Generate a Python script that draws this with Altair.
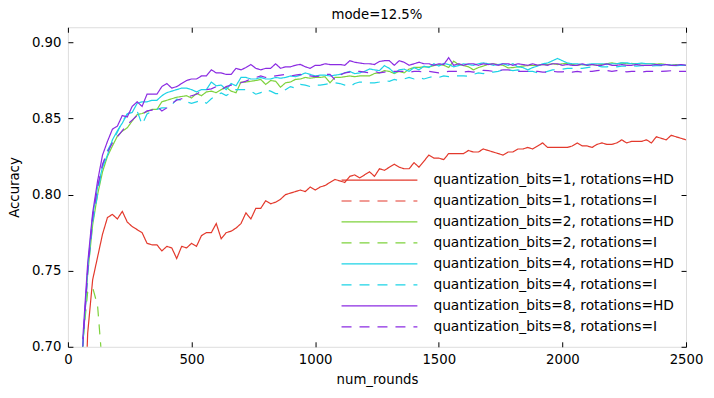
import altair as alt
import pandas as pd

# ---------------- data ----------------
GRID = list(range(60, 2501, 20))

labels = [
    "quantization_bits=1, rotations=HD",
    "quantization_bits=1, rotations=I",
    "quantization_bits=2, rotations=HD",
    "quantization_bits=2, rotations=I",
    "quantization_bits=4, rotations=HD",
    "quantization_bits=4, rotations=I",
    "quantization_bits=8, rotations=HD",
    "quantization_bits=8, rotations=I",
]
colors = ["#e3392c", "#e3392c", "#7ed23c", "#7ed23c", "#1dd3e6", "#1dd3e6", "#8b2be2", "#8b2be2"]
dashes = [[1, 0], [10, 8], [1, 0], [10, 8], [1, 0], [10, 8], [1, 0], [10, 8]]

x_ticks = [0, 500, 1000, 1500, 2000, 2500]
y_ticks = [0.70, 0.75, 0.80, 0.85, 0.90]

acc_1_hd = [
    0.62, 0.709, 0.744, 0.759, 0.774, 0.785, 0.787, 0.784, 0.789, 0.782,
    0.779, 0.777, 0.775, 0.768, 0.767, 0.767, 0.763, 0.766, 0.765, 0.758,
    0.766, 0.765, 0.768, 0.766, 0.773, 0.775, 0.775, 0.781, 0.771, 0.775,
    0.776, 0.778, 0.781, 0.788, 0.784, 0.791, 0.791, 0.796, 0.794, 0.795,
    0.797, 0.800, 0.801, 0.802, 0.803, 0.802, 0.805, 0.803, 0.805, 0.806,
    0.808, 0.810, 0.809, 0.808, 0.812, 0.813, 0.811, 0.813, 0.815, 0.812,
    0.817, 0.816, 0.818, 0.820, 0.818, 0.817, 0.817, 0.821, 0.818, 0.822,
    0.826, 0.824, 0.824, 0.823, 0.827, 0.827, 0.827, 0.827, 0.829, 0.828,
    0.828, 0.830, 0.829, 0.828, 0.827, 0.826, 0.828, 0.828, 0.830, 0.830,
    0.831, 0.830, 0.832, 0.834, 0.831, 0.831, 0.831, 0.831, 0.831, 0.832,
    0.834, 0.832, 0.832, 0.831, 0.833, 0.834, 0.833, 0.833, 0.834, 0.836,
    0.834, 0.835, 0.835, 0.835, 0.836, 0.834, 0.838, 0.837, 0.836, 0.839,
    0.838, 0.837, 0.836,
]

rounds_1_i = [60, 600, 1200, 1800, 2500]
acc_1_i = [0.30, 0.30, 0.30, 0.30, 0.30]

acc_2_hd = [
    0.700, 0.748, 0.780, 0.800, 0.815, 0.8252, 0.832, 0.8384, 0.8417, 0.8439,
    0.8484, 0.8526, 0.8533, 0.8545, 0.856, 0.856, 0.861, 0.862, 0.863, 0.864,
    0.8645, 0.865, 0.8635, 0.8665, 0.865, 0.8675, 0.868, 0.867, 0.869, 0.8706,
    0.868, 0.867, 0.874, 0.874, 0.8745, 0.875, 0.8757, 0.8724, 0.875, 0.8745,
    0.8706, 0.8735, 0.874, 0.8757, 0.876, 0.877, 0.8765, 0.877, 0.877, 0.8775,
    0.8735, 0.877, 0.877, 0.8775, 0.878, 0.8775, 0.878, 0.878, 0.878, 0.8796,
    0.880, 0.8815, 0.881, 0.8796, 0.881, 0.880, 0.8825, 0.8836, 0.8836, 0.884,
    0.884, 0.8848, 0.8855, 0.885, 0.8836, 0.8877, 0.8855, 0.8848, 0.884, 0.882,
    0.8835, 0.8845, 0.8856, 0.886, 0.8855, 0.885, 0.8833, 0.8835, 0.884, 0.8845,
    0.8848, 0.885, 0.885, 0.8855, 0.8855, 0.886, 0.8855, 0.886, 0.8862, 0.8855,
    0.885, 0.8855, 0.885, 0.8855, 0.885, 0.8855, 0.886, 0.8866, 0.886, 0.8865,
    0.886, 0.8862, 0.886, 0.886, 0.886, 0.886, 0.8858, 0.886, 0.8855, 0.885,
    0.8855, 0.885, 0.885,
]

rounds_2_i = [40, 60, 80, 100, 120, 140, 160]
acc_2_i = [0.60, 0.703, 0.736, 0.739, 0.727, 0.686, 0.62]

acc_4_hd = [
    0.700, 0.752, 0.786, 0.805, 0.818, 0.826, 0.836, 0.842, 0.847, 0.853,
    0.854, 0.860, 0.861, 0.861, 0.862, 0.862, 0.865, 0.867, 0.868, 0.869,
    0.870, 0.870, 0.869, 0.8675, 0.869, 0.869, 0.874, 0.8715, 0.872, 0.869,
    0.873, 0.8715, 0.877, 0.877, 0.876, 0.876, 0.877, 0.876, 0.876, 0.877,
    0.8765, 0.877, 0.878, 0.8775, 0.8785, 0.880, 0.879, 0.878, 0.8785, 0.8785,
    0.878, 0.8785, 0.879, 0.880, 0.881, 0.8795, 0.880, 0.881, 0.8826, 0.882,
    0.8815, 0.8848, 0.883, 0.880, 0.882, 0.8825, 0.881, 0.8835, 0.882, 0.8844,
    0.8835, 0.886, 0.8845, 0.8862, 0.8855, 0.884, 0.8848, 0.886, 0.8855, 0.885,
    0.886, 0.8866, 0.886, 0.885, 0.8855, 0.886, 0.885, 0.886, 0.884, 0.8835,
    0.882, 0.8835, 0.8845, 0.886, 0.8865, 0.888, 0.8895, 0.888, 0.8865, 0.886,
    0.886, 0.8855, 0.8855, 0.886, 0.886, 0.886, 0.8855, 0.886, 0.886, 0.8866,
    0.8866, 0.886, 0.886, 0.8865, 0.886, 0.886, 0.8855, 0.8855, 0.8855, 0.885,
    0.885, 0.885, 0.885,
]

acc_4_i = [
    0.700, 0.748, 0.782, 0.800, 0.819, 0.829, 0.835, 0.841, 0.848, 0.853,
    0.855, 0.855, 0.846, 0.853, 0.8548, 0.856, 0.857, 0.857, 0.859, 0.8628,
    0.862, 0.861, 0.860, 0.861, 0.862, 0.860, 0.863, 0.865, 0.8668, 0.8651,
    0.867, 0.869, 0.869, 0.869, 0.868, 0.866, 0.867, 0.869, 0.868, 0.8664,
    0.8664, 0.869, 0.871, 0.870, 0.8725, 0.872, 0.871, 0.872, 0.872, 0.8725,
    0.873, 0.8735, 0.873, 0.872, 0.871, 0.873, 0.874, 0.874, 0.8735, 0.8735,
    0.874, 0.875, 0.8745, 0.8757, 0.875, 0.876, 0.877, 0.876, 0.877, 0.876,
    0.877, 0.8777, 0.877, 0.878, 0.8775, 0.878, 0.878, 0.878, 0.8778, 0.879,
    0.880, 0.8795, 0.8805, 0.8805, 0.881, 0.882, 0.882, 0.8815, 0.882, 0.881,
    0.881, 0.881, 0.880, 0.880, 0.881, 0.882, 0.882, 0.8825, 0.883, 0.883,
    0.883, 0.883, 0.8835, 0.884, 0.8845, 0.884, 0.884, 0.8845, 0.884, 0.8845,
    0.8845, 0.8848, 0.8845, 0.8848, 0.8848, 0.8845, 0.8848, 0.8848, 0.8848, 0.885,
    0.8848, 0.885, 0.885,
]

acc_8_hd = [
    0.705, 0.755, 0.788, 0.809, 0.826, 0.835, 0.843, 0.845, 0.852, 0.851,
    0.858, 0.861, 0.858, 0.866, 0.866, 0.866, 0.871, 0.873, 0.870, 0.871,
    0.873, 0.875, 0.876, 0.876, 0.878, 0.878, 0.882, 0.880, 0.880, 0.879,
    0.879, 0.883, 0.882, 0.8835, 0.8855, 0.883, 0.882, 0.883, 0.883, 0.886,
    0.883, 0.884, 0.884, 0.885, 0.8856, 0.884, 0.883, 0.885, 0.885, 0.886,
    0.8855, 0.8855, 0.8855, 0.885, 0.888, 0.887, 0.8865, 0.886, 0.886, 0.8855,
    0.8875, 0.888, 0.888, 0.885, 0.888, 0.887, 0.885, 0.886, 0.887, 0.886,
    0.886, 0.885, 0.886, 0.8855, 0.890, 0.885, 0.886, 0.885, 0.886, 0.886,
    0.885, 0.886, 0.8855, 0.886, 0.885, 0.886, 0.886, 0.885, 0.886, 0.8855,
    0.885, 0.886, 0.885, 0.8855, 0.885, 0.886, 0.886, 0.885, 0.8855, 0.885,
    0.885, 0.886, 0.885, 0.8855, 0.885, 0.885, 0.886, 0.885, 0.885, 0.8855,
    0.885, 0.885, 0.8855, 0.885, 0.885, 0.885, 0.8855, 0.885, 0.8855, 0.885,
    0.885, 0.8855, 0.885,
]

acc_8_i = [
    0.700, 0.750, 0.785, 0.805, 0.820, 0.828, 0.834, 0.838, 0.842, 0.846,
    0.849, 0.852, 0.853, 0.855, 0.8555, 0.858, 0.855, 0.857, 0.860, 0.862,
    0.863, 0.864, 0.865, 0.866, 0.868, 0.869, 0.8695, 0.871, 0.869, 0.871,
    0.872, 0.873, 0.8735, 0.8746, 0.876, 0.877, 0.878, 0.877, 0.8774, 0.878,
    0.8785, 0.879, 0.878, 0.8785, 0.879, 0.878, 0.878, 0.8775, 0.878, 0.879,
    0.879, 0.8755, 0.8785, 0.880, 0.8805, 0.881, 0.881, 0.8805, 0.880, 0.881,
    0.880, 0.8805, 0.881, 0.881, 0.881, 0.881, 0.8805, 0.881, 0.881, 0.8805,
    0.881, 0.8805, 0.880, 0.8805, 0.881, 0.881, 0.881, 0.8805, 0.881, 0.8805,
    0.881, 0.8817, 0.8815, 0.881, 0.8815, 0.882, 0.882, 0.8815, 0.881, 0.881,
    0.881, 0.881, 0.881, 0.8805, 0.8805, 0.881, 0.8807, 0.8807, 0.881, 0.8805,
    0.881, 0.8805, 0.881, 0.881, 0.8815, 0.8818, 0.8815, 0.881, 0.8815, 0.881,
    0.8807, 0.881, 0.881, 0.8805, 0.881, 0.881, 0.881, 0.881, 0.8812, 0.8814,
    0.881, 0.881, 0.881,
]

series = [
    (labels[0], GRID, acc_1_hd),
    (labels[1], rounds_1_i, acc_1_i),
    (labels[2], GRID, acc_2_hd),
    (labels[3], rounds_2_i, acc_2_i),
    (labels[4], GRID, acc_4_hd),
    (labels[5], GRID, acc_4_i),
    (labels[6], GRID, acc_8_hd),
    (labels[7], GRID, acc_8_i),
]

rows = []
for order, (lab, xs, ys) in enumerate(series):
    for r, a in zip(xs, ys):
        rows.append({"series": lab, "order": order, "rounds": r, "acc": a})
df = pd.DataFrame(rows)

# ---------------- chart ----------------
FONT = "DejaVu Sans"
FS = 13.3

xscale = alt.Scale(domain=[0, 2500], nice=False, zero=False)
yscale = alt.Scale(domain=[0.70, 0.91], nice=False, zero=False)

main_x = alt.Axis(values=x_ticks, format="d", tickSize=0, ticks=False, domain=False, grid=False,
                  labelPadding=6, labelFont=FONT, labelFontSize=FS, labelColor="black",
                  title="num_rounds", titleFont=FONT, titleFontSize=FS, titleFontWeight="normal",
                  titleColor="black", titlePadding=6, labelFlush=False)
main_y = alt.Axis(values=y_ticks, format=".2f", tickSize=0, ticks=False, domain=False, grid=False,
                  labelPadding=7, labelFont=FONT, labelFontSize=FS, labelColor="black",
                  title="Accuracy", titleFont=FONT, titleFontSize=FS, titleFontWeight="normal",
                  titleColor="black", titlePadding=10, labelFlush=False)


def tick_axis(orient, vals):
    return alt.Axis(orient=orient, values=vals, labels=False, domain=False, grid=False,
                    ticks=True, tickSize=5, tickColor="black", tickWidth=1, offset=-5, title=None)


legend = alt.Legend(orient="none", legendX=305, legendY=146, title=None,
                    symbolType="M-6.33,0H6.33", symbolSize=144, symbolStrokeWidth=1.2,
                    labelFont=FONT, labelFontSize=13.8, labelColor="black", labelOffset=47,
                    labelLimit=0, rowPadding=7, padding=0)

lines = alt.Chart(df).mark_line(clip=True, strokeWidth=1.2).encode(
    x=alt.X("rounds:Q", scale=xscale, axis=main_x),
    y=alt.Y("acc:Q", scale=yscale, axis=main_y),
    color=alt.Color("series:N", scale=alt.Scale(domain=labels, range=colors), legend=legend),
    strokeDash=alt.StrokeDash("series:N", scale=alt.Scale(domain=labels, range=dashes), legend=legend),
    order=alt.Order("rounds:Q"),
)

ticks_bl = alt.Chart(df).mark_point(opacity=0, clip=True).encode(
    x=alt.X("rounds:Q", scale=xscale, axis=tick_axis("bottom", x_ticks)),
    y=alt.Y("acc:Q", scale=yscale, axis=tick_axis("left", y_ticks)),
)
ticks_tr = alt.Chart(df).mark_point(opacity=0, clip=True).encode(
    x=alt.X("rounds:Q", scale=xscale, axis=tick_axis("top", x_ticks)),
    y=alt.Y("acc:Q", scale=yscale, axis=tick_axis("right", y_ticks)),
)

chart = alt.layer(lines, ticks_bl, ticks_tr).resolve_axis(
    x="independent", y="independent"
).properties(
    width=619, height=320,
    title=alt.TitleParams("mode=12.5%", font=FONT, fontSize=FS, fontWeight="normal",
                          color="black", offset=5, anchor="middle"),
    autosize=alt.AutoSizeParams(type="none"),
    padding={"left": 60, "top": 19, "right": 20, "bottom": 45},
).configure_view(stroke="black", strokeWidth=1).configure(background="white")

chart.save("out.html", embed_options={"renderer": "svg", "actions": False})
